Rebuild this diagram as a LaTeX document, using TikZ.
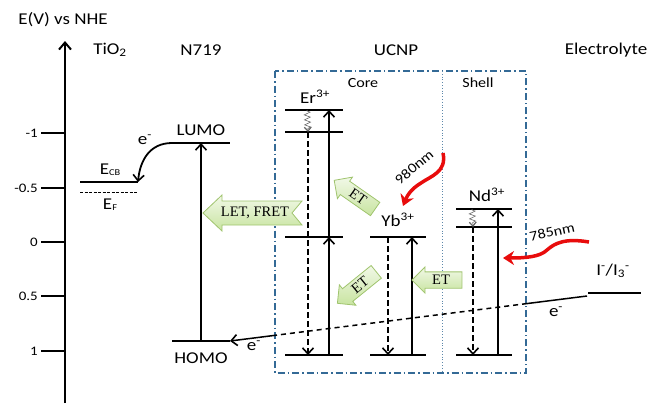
\documentclass[tikz,border=0pt]{standalone}
\usepackage{fontspec}
\setmainfont{Carlito}[FakeStretch=1.15]
\newfontfamily\arrowfont{Liberation Serif}
\usetikzlibrary{shapes,arrows.meta,positioning,calc,decorations.pathmorphing}
\definecolor{boxBlue}{RGB}{52,106,150}
\definecolor{etFill}{RGB}{200,228,160}
\definecolor{etDraw}{RGB}{160,196,110}
\definecolor{laserRed}{RGB}{232,12,12}

\begin{document}
\begin{tikzpicture}[x=1pt,y=-1pt,
    level/.style={line width=2.6pt},
    trans/.style={line width=1.8pt,-{Straight Barb[length=6pt,width=11pt,line width=1.6pt]}},
    relax/.style={trans,line width=2pt,dash pattern=on 6pt off 3pt},
    phonon/.style={draw=gray!80!black,line width=0.6pt,decorate,
      decoration={zigzag,segment length=5pt,amplitude=3pt,pre length=1pt,post length=3pt},
      -{Straight Barb[length=4pt,width=7pt,line width=1.2pt]}},
    laser/.style={draw=laserRed,line width=3.5pt,-{Stealth[length=11pt,width=14pt]}},
    lbl/.style={font=\fontsize{16.5}{18}\selectfont,inner sep=1pt},
    small/.style={font=\fontsize{14}{16}\selectfont,inner sep=1pt},
    tickl/.style={font=\fontsize{13}{15}\selectfont,inner sep=1pt,anchor=east},
    etlook/.style={draw=etDraw,thick,top color=etFill!25,bottom color=etFill},
    ettext/.style={font=\arrowfont\fontsize{14.5}{16}\selectfont},
    etarrow/.style={etlook,ettext,single arrow,shape border rotate=180,
      single arrow head extend=5pt,minimum height=50pt,inner sep=3pt}
  ]
  \useasboundingbox (0,0) rectangle (654,416);

  % energy axis
  \draw[line width=2.6pt,-{Straight Barb[length=7pt,width=12pt,line width=2pt]}] (65,403) -- (65,41);
  \node[lbl] (axis) at (63,20) {E(V) vs NHE};
  \foreach \y/\v [count=\i] in {133/-1,188/-0.5,242/0,296/0.5,351/1}{
    \draw[line width=2.6pt] (41,\y) -- (65,\y);
    \node[tickl] (tick\i) at (39,\y) {\v};
  }

  % column titles
  \node[lbl] (tio2) at (110,50) {TiO\textsubscript{2}};
  \node[lbl] (n719) at (201,50) {N719};
  \node[lbl] (ucnp) at (396,50) {UCNP};
  \node[lbl] (elyte) at (606,50) {Electrolyte};

  % TiO2
  \draw[level] (80,182) coordinate (ecbL) -- (138,182) coordinate (ecbR);
  \draw[line width=1pt,dash pattern=on 3pt off 1.5pt] (80,192) coordinate (efL) -- (138,192) coordinate (efR);
  \node[lbl] (ecb) at (110,170) {E\raisebox{-1pt}{\small CB}};
  \node[lbl] (ef) at (110,205) {E\raisebox{-1pt}{\small F}};

  % N719
  \draw[level] (172,143) coordinate (lumoL) -- (230,143) coordinate (lumoR);
  \draw[level] (172,341) coordinate (homoL) -- (230,341) coordinate (homoR);
  \node[lbl] (lumo) at (201,130) {LUMO};
  \node[lbl] (homo) at (201,358) {HOMO};
  \draw[trans] ($(homoL)!.5!(homoR)$) -- ($(lumoL)!.5!(lumoR)$);
  \draw[trans] (lumoL) .. controls +(-22,0) and +(2,-22) .. (ecbR);
  \node[lbl] (einj) at (145,140) {e\textsuperscript{-}};

  % UCNP box
  \coordinate (boxNW) at (275,71);
  \coordinate (boxSE) at (526,373);
  \draw[boxBlue,line width=1.4pt,dash pattern=on 7pt off 3pt on 1.5pt off 3pt] (boxNW) rectangle (boxSE);
  \draw[boxBlue!80,line width=0.8pt,dotted] (442,71) -- (442,373);
  \node[small] (core) at (363,83) {Core};
  \node[small] (shell) at (478,83) {Shell};

  % Er3+
  \coordinate (er3) at (314,110);
  \coordinate (er2) at (314,132);
  \coordinate (er1) at (314,237);
  \coordinate (er0) at (314,355);
  \foreach \n in {er3,er2,er1,er0}
    \draw[level] ([xshift=-29pt]\n) -- ([xshift=29pt]\n);
  \node[lbl] (erlbl) at (315,97) {Er\textsuperscript{3+}};
  \draw[trans] ([xshift=15pt]er0) -- ([xshift=15pt]er1);
  \draw[trans] ([xshift=15pt]er1) -- ([xshift=15pt]er3);
  \draw[relax] ([xshift=-6pt]er2) -- ([xshift=-6pt]er0);
  \draw[phonon] ([xshift=-7pt]er3) -- ([xshift=-6pt]er2);

  % Yb3+
  \coordinate (yb1) at (398,237);
  \coordinate (yb0) at (398,355);
  \foreach \n in {yb1,yb0}
    \draw[level] ([xshift=-28pt]\n) -- ([xshift=28pt]\n);
  \node[lbl] (yblbl) at (398,220) {Yb\textsuperscript{3+}};
  \draw[relax] ([xshift=-10pt]yb1) -- ([xshift=-10pt]yb0);
  \draw[trans] ([xshift=14pt]yb0) -- ([xshift=14pt]yb1);

  % Nd3+
  \coordinate (nd2) at (484,209);
  \coordinate (nd1) at (484,227);
  \coordinate (nd0) at (484,355);
  \foreach \n in {nd2,nd1,nd0}
    \draw[level] ([xshift=-28pt]\n) -- ([xshift=28pt]\n);
  \node[lbl] (ndlbl) at (487,195) {Nd\textsuperscript{3+}};
  \draw[trans] ([xshift=14pt]nd0) -- ([xshift=14pt]nd2);
  \draw[relax] ([xshift=-11pt]nd1) -- ([xshift=-11pt]nd0);
  \draw[phonon] ([xshift=-12pt]nd2) -- ([xshift=-11pt]nd1);

  % energy transfer arrows
  \draw[etlook] (203,213) -- (222,195) -- (222,201) -- (302,201) -- (292,213)
    -- (302,225) -- (222,225) -- (222,231) -- cycle;
  \node[ettext] (let) at (255,213) {LET, FRET};
  \node[etarrow,rotate=-35] (etUp) at (358,197) {ET};
  \node[etarrow,rotate=39] (etDown) at (360,285) {ET};
  \node[etarrow] (etNd) at (441,280) {ET};

  % excitation
  \coordinate (src980) at (443,153);
  \coordinate (tip980) at (403,206);
  \draw[laser] (src980) .. controls (447,172) and (431,176) .. (421,183)
    .. controls (411,189) and (407,196) .. (tip980);
  \node[small,rotate=40] (l980) at (414,167) {980nm};
  \coordinate (src785) at (589,242);
  \coordinate (tip785) at (503,258);
  \draw[laser] (src785) .. controls (565,238) and (555,243) .. (547,250)
    .. controls (540,257) and (525,258) .. (tip785);
  \node[small,rotate=12] (l785) at (552,232) {785nm};

  % electrolyte and regeneration
  \draw[level] (588,293) coordinate (redoxL) -- (641,293) coordinate (redoxR);
  \node[lbl] (redox) at (613,271) {I\textsuperscript{-}/I\textsubscript{3}\textsuperscript{-}};
  \coordinate (redoxE) at (587,296);
  \draw[line width=1.5pt] (redoxE) -- ($(redoxE)!0.168!(homoR)$) coordinate (eIn);
  \draw[line width=1.5pt,dash pattern=on 5pt off 4pt] (eIn) -- ($(redoxE)!0.874!(homoR)$) coordinate (eOut);
  \draw[trans,line width=1.5pt] (eOut) -- (homoR);
  \node[lbl] (eR) at (556,312) {e\textsuperscript{-}};
  \node[lbl] (eL) at (254,346) {e\textsuperscript{-}};
\end{tikzpicture}
\end{document}
